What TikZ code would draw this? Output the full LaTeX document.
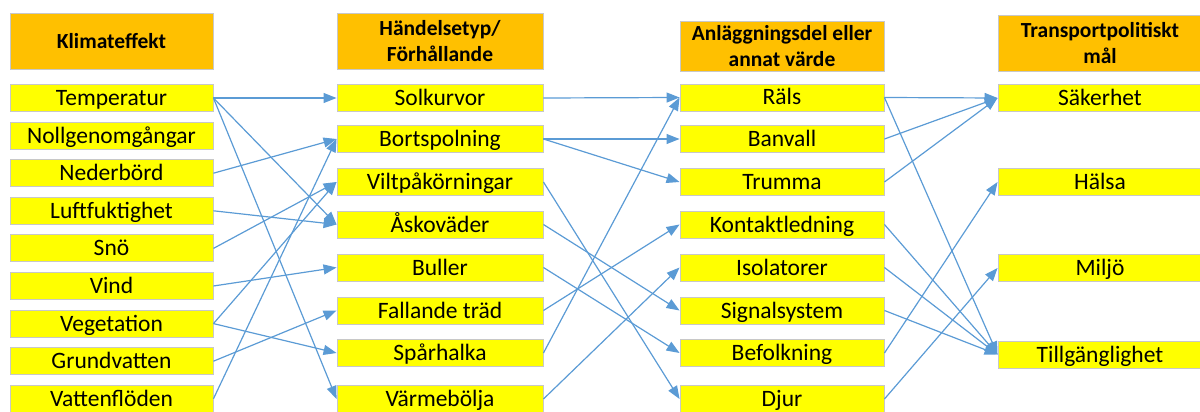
\documentclass[tikz,border=0pt]{standalone}
\usepackage{fontspec}
\setmainfont{Carlito}
\usetikzlibrary{arrows.meta}
\definecolor{conn}{HTML}{5B9BD5}
\definecolor{hdr}{HTML}{FFC000}
\definecolor{itm}{HTML}{FFFF00}
\definecolor{edgegray}{HTML}{C8C8C8}
\begin{document}
\begin{tikzpicture}[x=1pt,y=-1pt,
 item/.style={draw=edgegray, line width=0.9pt, fill=itm, minimum height=27pt, inner sep=0pt,
   font=\fontsize{23.5}{28}\selectfont, text height=18pt, text depth=3pt},
 head/.style={draw=edgegray, line width=0.9pt, fill=hdr, inner sep=0pt,
   font=\fontsize{21.5}{25.5}\selectfont\bfseries, align=center},
 link/.style={draw=conn, line width=1.2pt, -{Triangle[length=13pt,width=10pt]}}]
\useasboundingbox (0,0) rectangle (1200,412);
\begin{scope}
\clip (0,0) rectangle (1200,412);
% headers
\node[head, minimum width=203pt, minimum height=56pt] (h1) at (111.5,41) {Klimateffekt};
\node[head, minimum width=206pt, minimum height=56pt] (h2) at (440,41) {Händelsetyp/\\Förhållande};
\node[head, minimum width=204pt, minimum height=50pt] (h3) at (782,46) {Anläggningsdel eller\\annat värde};
\node[head, minimum width=204pt, minimum height=56pt] (h4) at (1100,43) {Transportpolitiskt\\mål};
% column 1
\node[item, minimum width=203pt] (temp) at (111.5,98) {Temperatur};
\node[item, minimum width=203pt] (noll) at (111.5,135.6) {Nollgenomgångar};
\node[item, minimum width=203pt] (neder) at (111.5,173.2) {Nederbörd};
\node[item, minimum width=203pt] (luft) at (111.5,210.8) {Luftfuktighet};
\node[item, minimum width=203pt] (sno) at (111.5,248.4) {Snö};
\node[item, minimum width=203pt] (vind) at (111.5,286) {Vind};
\node[item, minimum width=203pt] (veg) at (111.5,323.6) {Vegetation};
\node[item, minimum width=203pt] (grund) at (111.5,361.2) {Grundvatten};
\node[item, minimum width=203pt] (vatten) at (111.5,398.8) {Vattenflöden};
% column 2
\node[item, minimum width=206pt] (solk) at (440,98) {Solkurvor};
\node[item, minimum width=206pt] (borts) at (440,139) {Bortspolning};
\node[item, minimum width=206pt] (vilt) at (440,182) {Viltpåkörningar};
\node[item, minimum width=206pt] (asko) at (440,224.5) {Åskoväder};
\node[item, minimum width=206pt] (buller) at (440,267.5) {Buller};
\node[item, minimum width=206pt] (fall) at (440,310.5) {Fallande träd};
\node[item, minimum width=206pt] (spar) at (440,353) {Spårhalka};
\node[item, minimum width=206pt] (varme) at (440,399) {Värmebölja};
% column 3
\node[item, minimum width=204pt] (rals) at (782,97.5) {Räls};
\node[item, minimum width=204pt] (banv) at (782,139) {Banvall};
\node[item, minimum width=204pt] (trum) at (782,182) {Trumma};
\node[item, minimum width=204pt] (kont) at (782,224.5) {Kontaktledning};
\node[item, minimum width=204pt] (iso) at (782,267.5) {Isolatorer};
\node[item, minimum width=204pt] (sign) at (782,310.5) {Signalsystem};
\node[item, minimum width=204pt] (befo) at (782,353) {Befolkning};
\node[item, minimum width=204pt] (djur) at (782,399) {Djur};
% column 4
\node[item, minimum width=204pt] (sak) at (1100,98) {Säkerhet};
\node[item, minimum width=204pt] (halsa) at (1100,182) {Hälsa};
\node[item, minimum width=204pt] (miljo) at (1100,268) {Miljö};
\node[item, minimum width=204pt] (tillg) at (1100,354.5) {Tillgänglighet};
% links col1 -> col2
\draw[link] (temp.east) -- (solk.west);
\draw[link] (temp.east) -- (asko.west);
\draw[link] (temp.east) -- (varme.west);
\draw[link] (neder.east) -- (borts.west);
\draw[link] (luft.east) -- (asko.west);
\draw[link] (sno.east) -- (vilt.west);
\draw[link] (vind.east) -- (buller.west);
\draw[link] (veg.east) -- (vilt.west);
\draw[link] (veg.east) -- (spar.west);
\draw[link] (grund.east) -- (fall.west);
\draw[link] (vatten.east) -- (borts.west);
% links col2 -> col3
\draw[link] (solk.east) -- (rals.west);
\draw[link] (borts.east) -- (banv.west);
\draw[link] (borts.east) -- (trum.west);
\draw[link] (vilt.east) -- (djur.west);
\draw[link] (asko.east) -- (sign.west);
\draw[link] (buller.east) -- (befo.west);
\draw[link] (fall.east) -- (kont.west);
\draw[link] (spar.east) -- (rals.west);
\draw[link] (varme.east) -- (iso.west);
% links col3 -> col4
\draw[link] (rals.east) -- (sak.west);
\draw[link] (banv.east) -- (sak.west);
\draw[link] (trum.east) -- (sak.west);
\draw[link] (rals.east) -- (tillg.west);
\draw[link] (kont.east) -- (tillg.west);
\draw[link] (iso.east) -- (tillg.west);
\draw[link] (sign.east) -- (tillg.west);
\draw[link] (befo.east) -- (halsa.west);
\draw[link] (djur.east) -- (miljo.west);
\end{scope}
\end{tikzpicture}
\end{document}
